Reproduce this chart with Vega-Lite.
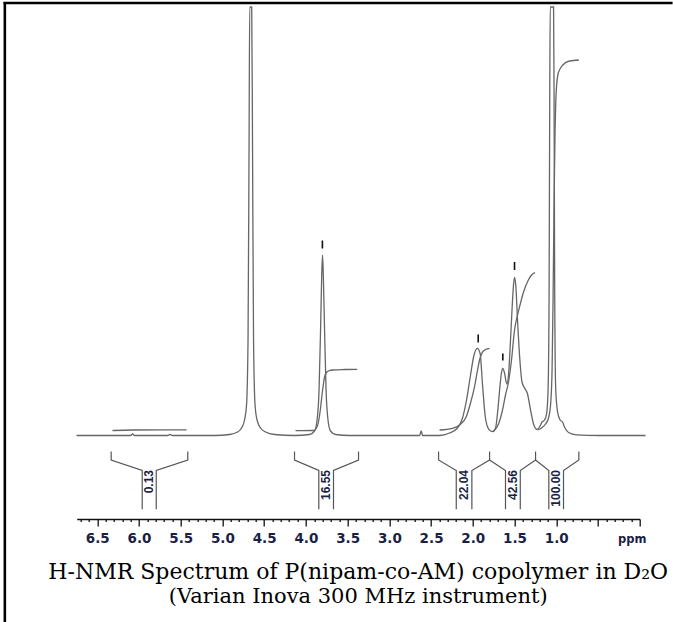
{
  "$schema": "https://vega.github.io/schema/vega-lite/v6.json",
  "width": 563,
  "height": 512,
  "autosize": {"type": "none"},
  "padding": {"left": 76.7, "top": 7, "right": 33.3, "bottom": 103},
  "background": "white",
  "config": {"view": {"stroke": null}},
  "title": {
    "text": "H-NMR Spectrum of P(nipam-co-AM) copolymer in D₂O",
    "subtitle": "(Varian Inova 300 MHz instrument)",
    "orient": "bottom",
    "anchor": "middle",
    "frame": "group",
    "offset": -61,
    "font": "DejaVu Serif",
    "fontSize": 22,
    "fontWeight": "normal",
    "color": "#000000",
    "subtitleFont": "DejaVu Serif",
    "subtitleFontSize": 21,
    "subtitleColor": "#000000",
    "subtitlePadding": 2
  },
  "datasets": {
    "spec": [
      {"s": "spectrum", "ppm": 6.748, "v": 0.5},
      {"s": "spectrum", "ppm": 6.317, "v": 0.5},
      {"s": "spectrum", "ppm": 6.101, "v": 0.5},
      {"s": "spectrum", "ppm": 6.077, "v": 2},
      {"s": "spectrum", "ppm": 6.053, "v": 0.5},
      {"s": "spectrum", "ppm": 5.658, "v": 0.5},
      {"s": "spectrum", "ppm": 5.628, "v": 1.5},
      {"s": "spectrum", "ppm": 5.598, "v": 0.5},
      {"s": "spectrum", "ppm": 5.095, "v": 0.5},
      {"s": "spectrum", "ppm": 4.915, "v": 1.5},
      {"s": "spectrum", "ppm": 4.819, "v": 4},
      {"s": "spectrum", "ppm": 4.771, "v": 8},
      {"s": "spectrum", "ppm": 4.735, "v": 16},
      {"s": "spectrum", "ppm": 4.711, "v": 31},
      {"s": "spectrum", "ppm": 4.693, "v": 96},
      {"s": "spectrum", "ppm": 4.681, "v": 286},
      {"s": "spectrum", "ppm": 4.673, "v": 429},
      {"s": "spectrum", "ppm": 4.649, "v": 429},
      {"s": "spectrum", "ppm": 4.639, "v": 286},
      {"s": "spectrum", "ppm": 4.627, "v": 96},
      {"s": "spectrum", "ppm": 4.609, "v": 31},
      {"s": "spectrum", "ppm": 4.585, "v": 16},
      {"s": "spectrum", "ppm": 4.543, "v": 8},
      {"s": "spectrum", "ppm": 4.483, "v": 4},
      {"s": "spectrum", "ppm": 4.376, "v": 1.5},
      {"s": "spectrum", "ppm": 4.136, "v": 0.5},
      {"s": "spectrum", "ppm": 3.956, "v": 1.5},
      {"s": "spectrum", "ppm": 3.896, "v": 5},
      {"s": "spectrum", "ppm": 3.866, "v": 16},
      {"s": "spectrum", "ppm": 3.842, "v": 46},
      {"s": "spectrum", "ppm": 3.824, "v": 106},
      {"s": "spectrum", "ppm": 3.810, "v": 161},
      {"s": "spectrum", "ppm": 3.800, "v": 181},
      {"s": "spectrum", "ppm": 3.791, "v": 161},
      {"s": "spectrum", "ppm": 3.776, "v": 106},
      {"s": "spectrum", "ppm": 3.758, "v": 46},
      {"s": "spectrum", "ppm": 3.735, "v": 16},
      {"s": "spectrum", "ppm": 3.705, "v": 5},
      {"s": "spectrum", "ppm": 3.645, "v": 1.5},
      {"s": "spectrum", "ppm": 3.477, "v": 0.5},
      {"s": "spectrum", "ppm": 2.638, "v": 0.5},
      {"s": "spectrum", "ppm": 2.618, "v": 5},
      {"s": "spectrum", "ppm": 2.602, "v": 0.5},
      {"s": "spectrum", "ppm": 2.398, "v": 0.5},
      {"s": "spectrum", "ppm": 2.279, "v": 3},
      {"s": "spectrum", "ppm": 2.183, "v": 8},
      {"s": "spectrum", "ppm": 2.123, "v": 18},
      {"s": "spectrum", "ppm": 2.075, "v": 36},
      {"s": "spectrum", "ppm": 2.027, "v": 61},
      {"s": "spectrum", "ppm": 1.985, "v": 81},
      {"s": "spectrum", "ppm": 1.947, "v": 87.7},
      {"s": "spectrum", "ppm": 1.913, "v": 83},
      {"s": "spectrum", "ppm": 1.883, "v": 51},
      {"s": "spectrum", "ppm": 1.853, "v": 21},
      {"s": "spectrum", "ppm": 1.823, "v": 9},
      {"s": "spectrum", "ppm": 1.787, "v": 5},
      {"s": "spectrum", "ppm": 1.757, "v": 4.5},
      {"s": "spectrum", "ppm": 1.727, "v": 8},
      {"s": "spectrum", "ppm": 1.700, "v": 26},
      {"s": "spectrum", "ppm": 1.673, "v": 51},
      {"s": "spectrum", "ppm": 1.655, "v": 64},
      {"s": "spectrum", "ppm": 1.640, "v": 67.7},
      {"s": "spectrum", "ppm": 1.620, "v": 63},
      {"s": "spectrum", "ppm": 1.592, "v": 52},
      {"s": "spectrum", "ppm": 1.572, "v": 61},
      {"s": "spectrum", "ppm": 1.554, "v": 86},
      {"s": "spectrum", "ppm": 1.530, "v": 126},
      {"s": "spectrum", "ppm": 1.512, "v": 151},
      {"s": "spectrum", "ppm": 1.500, "v": 158.7},
      {"s": "spectrum", "ppm": 1.485, "v": 151},
      {"s": "spectrum", "ppm": 1.464, "v": 116},
      {"s": "spectrum", "ppm": 1.440, "v": 81},
      {"s": "spectrum", "ppm": 1.410, "v": 54},
      {"s": "spectrum", "ppm": 1.380, "v": 48},
      {"s": "spectrum", "ppm": 1.344, "v": 42},
      {"s": "spectrum", "ppm": 1.308, "v": 26},
      {"s": "spectrum", "ppm": 1.272, "v": 12},
      {"s": "spectrum", "ppm": 1.232, "v": 6.7},
      {"s": "spectrum", "ppm": 1.200, "v": 9},
      {"s": "spectrum", "ppm": 1.170, "v": 14},
      {"s": "spectrum", "ppm": 1.140, "v": 16},
      {"s": "spectrum", "ppm": 1.116, "v": 22},
      {"s": "spectrum", "ppm": 1.098, "v": 46},
      {"s": "spectrum", "ppm": 1.086, "v": 136},
      {"s": "spectrum", "ppm": 1.078, "v": 336},
      {"s": "spectrum", "ppm": 1.072, "v": 429},
      {"s": "spectrum", "ppm": 1.032, "v": 429},
      {"s": "spectrum", "ppm": 1.026, "v": 336},
      {"s": "spectrum", "ppm": 1.018, "v": 136},
      {"s": "spectrum", "ppm": 1.006, "v": 46},
      {"s": "spectrum", "ppm": 0.984, "v": 24},
      {"s": "spectrum", "ppm": 0.954, "v": 16},
      {"s": "spectrum", "ppm": 0.925, "v": 14},
      {"s": "spectrum", "ppm": 0.895, "v": 8},
      {"s": "spectrum", "ppm": 0.853, "v": 3.5},
      {"s": "spectrum", "ppm": 0.757, "v": 1.2},
      {"s": "spectrum", "ppm": 0.481, "v": 0.5},
      {"s": "spectrum", "ppm": -0.07, "v": 0.5},

      {"s": "int1", "ppm": 6.317, "v": 5.5},
      {"s": "int1", "ppm": 6.077, "v": 6},
      {"s": "int1", "ppm": 5.430, "v": 6.2},

      {"s": "int2", "ppm": 4.124, "v": 5.3},
      {"s": "int2", "ppm": 3.908, "v": 5.5},
      {"s": "int2", "ppm": 3.872, "v": 8},
      {"s": "int2", "ppm": 3.845, "v": 16},
      {"s": "int2", "ppm": 3.824, "v": 28},
      {"s": "int2", "ppm": 3.804, "v": 43},
      {"s": "int2", "ppm": 3.788, "v": 53},
      {"s": "int2", "ppm": 3.776, "v": 59},
      {"s": "int2", "ppm": 3.749, "v": 64},
      {"s": "int2", "ppm": 3.717, "v": 65.5},
      {"s": "int2", "ppm": 3.677, "v": 66},
      {"s": "int2", "ppm": 3.537, "v": 66.5},
      {"s": "int2", "ppm": 3.385, "v": 66.7},

      {"s": "int3", "ppm": 2.398, "v": 6},
      {"s": "int3", "ppm": 2.243, "v": 7.7},
      {"s": "int3", "ppm": 2.159, "v": 11},
      {"s": "int3", "ppm": 2.078, "v": 19.3},
      {"s": "int3", "ppm": 2.027, "v": 33},
      {"s": "int3", "ppm": 1.979, "v": 49.3},
      {"s": "int3", "ppm": 1.943, "v": 66},
      {"s": "int3", "ppm": 1.919, "v": 76},
      {"s": "int3", "ppm": 1.880, "v": 84.3},
      {"s": "int3", "ppm": 1.847, "v": 86.5},
      {"s": "int3", "ppm": 1.799, "v": 87.7},

      {"s": "int4", "ppm": 1.751, "v": 5},
      {"s": "int4", "ppm": 1.691, "v": 12},
      {"s": "int4", "ppm": 1.644, "v": 26},
      {"s": "int4", "ppm": 1.608, "v": 41},
      {"s": "int4", "ppm": 1.572, "v": 54},
      {"s": "int4", "ppm": 1.536, "v": 76},
      {"s": "int4", "ppm": 1.500, "v": 106},
      {"s": "int4", "ppm": 1.464, "v": 121},
      {"s": "int4", "ppm": 1.434, "v": 131},
      {"s": "int4", "ppm": 1.392, "v": 144},
      {"s": "int4", "ppm": 1.340, "v": 155},
      {"s": "int4", "ppm": 1.296, "v": 161},
      {"s": "int4", "ppm": 1.254, "v": 163.3},

      {"s": "int5", "ppm": 1.224, "v": 6},
      {"s": "int5", "ppm": 1.176, "v": 8},
      {"s": "int5", "ppm": 1.128, "v": 12},
      {"s": "int5", "ppm": 1.092, "v": 18},
      {"s": "int5", "ppm": 1.068, "v": 31},
      {"s": "int5", "ppm": 1.050, "v": 66},
      {"s": "int5", "ppm": 1.038, "v": 136},
      {"s": "int5", "ppm": 1.026, "v": 236},
      {"s": "int5", "ppm": 1.014, "v": 306},
      {"s": "int5", "ppm": 1.005, "v": 336},
      {"s": "int5", "ppm": 0.981, "v": 361},
      {"s": "int5", "ppm": 0.948, "v": 368},
      {"s": "int5", "ppm": 0.921, "v": 371},
      {"s": "int5", "ppm": 0.841, "v": 375},
      {"s": "int5", "ppm": 0.729, "v": 376}
    ],
    "brackets": [
      {"g": "a", "i": 0, "ppm": 6.333, "v": -15.5},
      {"g": "a", "i": 1, "ppm": 6.333, "v": -24},
      {"g": "a", "i": 2, "ppm": 5.961, "v": -34.5},
      {"g": "a", "i": 3, "ppm": 5.961, "v": -73.3},
      {"g": "b", "i": 0, "ppm": 5.415, "v": -15.5},
      {"g": "b", "i": 1, "ppm": 5.415, "v": -24},
      {"g": "b", "i": 2, "ppm": 5.793, "v": -34.5},
      {"g": "b", "i": 3, "ppm": 5.793, "v": -73.3},
      {"g": "c", "i": 0, "ppm": 4.136, "v": -15.5},
      {"g": "c", "i": 1, "ppm": 4.136, "v": -24},
      {"g": "c", "i": 2, "ppm": 3.845, "v": -34.5},
      {"g": "c", "i": 3, "ppm": 3.845, "v": -73.3},
      {"g": "d", "i": 0, "ppm": 3.369, "v": -15.5},
      {"g": "d", "i": 1, "ppm": 3.369, "v": -24},
      {"g": "d", "i": 2, "ppm": 3.669, "v": -34.5},
      {"g": "d", "i": 3, "ppm": 3.669, "v": -73.3},
      {"g": "e", "i": 0, "ppm": 2.410, "v": -15.5},
      {"g": "e", "i": 1, "ppm": 2.410, "v": -24},
      {"g": "e", "i": 2, "ppm": 2.198, "v": -34.5},
      {"g": "e", "i": 3, "ppm": 2.198, "v": -73.3},
      {"g": "f", "i": 0, "ppm": 2.011, "v": -73.3},
      {"g": "f", "i": 1, "ppm": 2.011, "v": -34.5},
      {"g": "f", "i": 2, "ppm": 1.799, "v": -24},
      {"g": "f", "i": 3, "ppm": 1.608, "v": -34.5},
      {"g": "f", "i": 4, "ppm": 1.608, "v": -73.3},
      {"g": "g", "i": 0, "ppm": 1.799, "v": -24},
      {"g": "g", "i": 1, "ppm": 1.799, "v": -15.5},
      {"g": "h", "i": 0, "ppm": 1.431, "v": -73.3},
      {"g": "h", "i": 1, "ppm": 1.431, "v": -34.5},
      {"g": "h", "i": 2, "ppm": 1.248, "v": -24},
      {"g": "h", "i": 3, "ppm": 1.089, "v": -34.5},
      {"g": "h", "i": 4, "ppm": 1.089, "v": -73.3},
      {"g": "k", "i": 0, "ppm": 1.248, "v": -24},
      {"g": "k", "i": 1, "ppm": 1.248, "v": -15.5},
      {"g": "m", "i": 0, "ppm": 0.913, "v": -73.3},
      {"g": "m", "i": 1, "ppm": 0.913, "v": -34.5},
      {"g": "m", "i": 2, "ppm": 0.729, "v": -24},
      {"g": "m", "i": 3, "ppm": 0.729, "v": -15.5}
    ],
    "labels": [
      {"ppm": 5.877, "v": -34, "t": "0.13"},
      {"ppm": 3.757, "v": -34, "t": "16.55"},
      {"ppm": 2.105, "v": -34, "t": "22.04"},
      {"ppm": 1.520, "v": -34, "t": "42.56"},
      {"ppm": 1.001, "v": -34, "t": "100.00"}
    ],
    "markers": [
      {"ppm": 3.802, "v": 187.5, "v2": 195.5},
      {"ppm": 1.935, "v": 93.5, "v2": 101.5},
      {"ppm": 1.640, "v": 75.5, "v2": 82.5},
      {"ppm": 1.500, "v": 166, "v2": 174}
    ],
    "frame": [
      {"ppm": 7.607, "ppm2": 7.607, "v": 434, "v2": -186},
      {"ppm": 7.623, "ppm2": -0.394, "v": 433, "v2": 433}
    ]
  },
  "encoding": {
    "x": {
      "field": "ppm",
      "type": "quantitative",
      "scale": {"domain": [6.746, 0], "nice": false, "zero": false},
      "axis": {
        "title": "ppm",
        "titleX": 555,
        "titleY": 23.5,
        "titleAlign": "center",
        "titleBaseline": "alphabetic",
        "titleFont": "DejaVu Sans",
        "titleFontWeight": "bold",
        "titleFontSize": 11.5,
        "titleColor": "#1b1f45",
        "values": [6.7,6.6,6.5,6.4,6.3,6.2,6.1,6.0,5.9,5.8,5.7,5.6,5.5,5.4,5.3,5.2,5.1,5.0,4.9,4.8,4.7,4.6,4.5,4.4,4.3,4.2,4.1,4.0,3.9,3.8,3.7,3.6,3.5,3.4,3.3,3.2,3.1,3.0,2.9,2.8,2.7,2.6,2.5,2.4,2.3,2.2,2.1,2.0,1.9,1.8,1.7,1.6,1.5,1.4,1.3,1.2,1.1,1.0,0.9,0.8,0.7,0.6,0.5,0.4,0.3,0.2,0.1,0.0],
        "format": ".1f",
        "labelExpr": "(abs(datum.value*2 - round(datum.value*2)) < 0.01 && datum.value > 0.9) ? datum.label : ''",
        "tickSize": {"condition": {"test": "abs(datum.value*2 - round(datum.value*2)) < 0.01", "value": 7}, "value": 2.5},
        "tickColor": "#111111",
        "tickWidth": 1.3,
        "domainColor": "#111111",
        "domainWidth": 1.6,
        "labelFont": "DejaVu Sans",
        "labelFontWeight": "bold",
        "labelFontSize": 13.5,
        "labelColor": "#1b1f45",
        "labelPadding": 5,
        "labelOverlap": false,
        "labelFlush": false,
        "grid": false
      }
    },
    "y": {
      "field": "v",
      "type": "quantitative",
      "scale": {"domain": [-83, 429], "nice": false, "zero": false},
      "axis": null
    }
  },
  "layer": [
    {
      "data": {"name": "frame"},
      "mark": {"type": "rule", "color": "#000000", "strokeWidth": 2.6},
      "encoding": {"x2": {"field": "ppm2"}, "y2": {"field": "v2"}}
    },
    {
      "data": {"name": "spec"},
      "mark": {"type": "line", "color": "#666666", "strokeWidth": 1.3, "interpolate": "monotone"},
      "encoding": {"detail": {"field": "s"}}
    },
    {
      "data": {"name": "markers"},
      "mark": {"type": "rule", "color": "#111111", "strokeWidth": 1.6},
      "encoding": {"y2": {"field": "v2"}}
    },
    {
      "data": {"name": "brackets"},
      "mark": {"type": "line", "color": "#555555", "strokeWidth": 1.2},
      "encoding": {"detail": {"field": "g"}, "order": {"field": "i"}}
    },
    {
      "data": {"name": "labels"},
      "mark": {"type": "text", "angle": 270, "align": "right", "baseline": "middle", "font": "Liberation Sans", "fontWeight": "bold", "fontSize": 12, "color": "#1b1f45"},
      "encoding": {"text": {"field": "t"}}
    }
  ]
}
